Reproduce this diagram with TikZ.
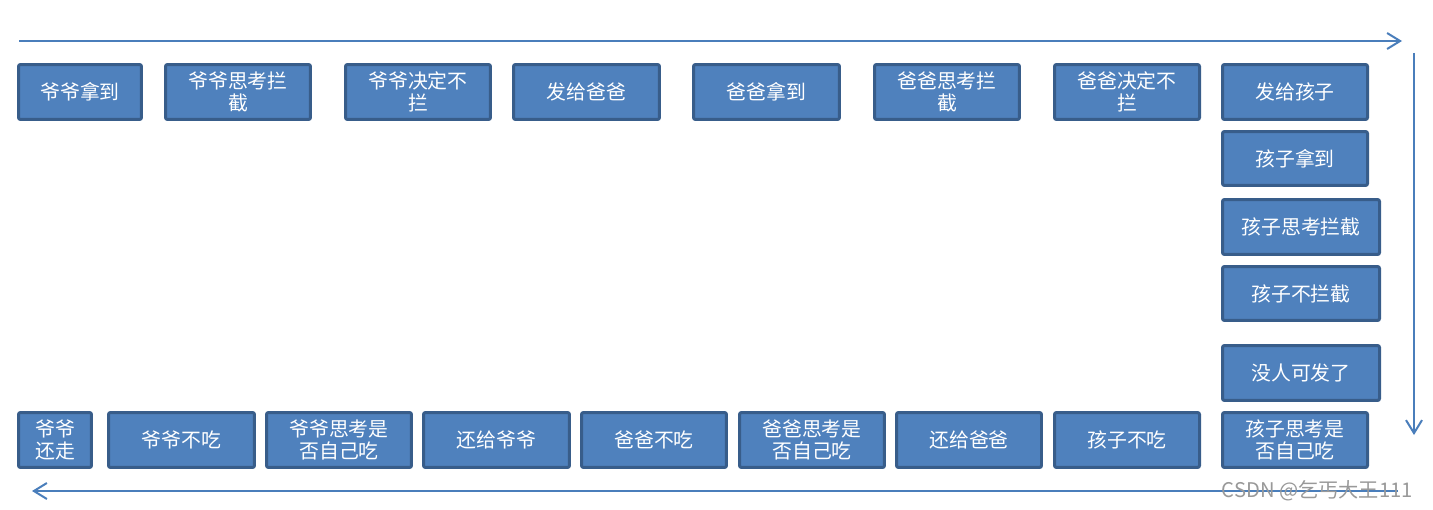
\documentclass[tikz,border=0pt]{standalone}
\usepackage{fontspec}
\newfontfamily\cjk{Noto Sans CJK SC}
\usetikzlibrary{arrows.meta}
\definecolor{boxfill}{HTML}{4F81BD}
\definecolor{boxline}{HTML}{385D8A}
\definecolor{flowline}{HTML}{4A7EBB}
\begin{document}
\begin{tikzpicture}[x=0.02cm,y=-0.02cm,
    box/.style={draw=boxline, fill=boxfill, line width=0.06cm, rounded corners=0.04cm,
        text=white, font=\cjk\fontsize{11.3}{12.6}\selectfont, align=center,
        inner sep=0pt, minimum height=1.10cm, minimum width=2.90cm},
    flow/.style={draw=flowline, line width=0.04cm, -{Straight Barb[length=0.26cm,width=0.32cm,line width=0.04cm]}}]
\useasboundingbox (0,0) rectangle (1433,510);

% top row, left to right
\node[box, minimum width=2.46cm] (yeget) at (80,92) {爷爷拿到};
\node[box] (yethink) at (238,92) {爷爷思考拦\\截};
\node[box] (yepass) at (418,92) {爷爷决定不\\拦};
\node[box, minimum width=2.92cm] (todad) at (586.5,92) {发给爸爸};
\node[box, minimum width=2.92cm] (dadget) at (766.5,92) {爸爸拿到};
\node[box] (dadthink) at (947,92) {爸爸思考拦\\截};
\node[box] (dadpass) at (1127,92) {爸爸决定不\\拦};
\node[box] (tokid) at (1295,92) {发给孩子};

% right column, top to bottom
\node[box, minimum height=1.08cm] (kidget) at (1295,158.5) {孩子拿到};
\node[box, minimum width=3.14cm] (kidthink) at (1301,227) {孩子思考拦截};
\node[box, minimum width=3.14cm, minimum height=1.08cm] (kidpass) at (1301,293.5) {孩子不拦截};
\node[box, minimum width=3.14cm] (nobody) at (1301,373) {没人可发了};
\node[box] (kideat) at (1295,440) {孩子思考是\\否自己吃};

% bottom row, right to left
\node[box] (kidno) at (1127,440) {孩子不吃};
\node[box] (todadback) at (969,440) {还给爸爸};
\node[box] (dadeat) at (812,440) {爸爸思考是\\否自己吃};
\node[box] (dadno) at (654,440) {爸爸不吃};
\node[box, minimum width=2.92cm] (toyeback) at (496.5,440) {还给爷爷};
\node[box] (yeeat) at (339,440) {爷爷思考是\\否自己吃};
\node[box, minimum width=2.92cm] (yeno) at (181.5,440) {爷爷不吃};
\node[box, minimum width=1.46cm] (yeleave) at (55,440) {爷爷\\还走};

% flow arrows
\coordinate (topstart) at (19,41);
\coordinate (topend) at (1402,41);
\coordinate (rightstart) at (1414,53);
\coordinate (rightend) at (1414,435);
\coordinate (botstart) at (1398,491);
\coordinate (botend) at (32,491);
\draw[flow] (topstart) -- (topend);
\draw[flow] (rightstart) -- (rightend);
\draw[flow] (botstart) -- (botend);

\node[text=gray!80, font=\cjk\fontsize{11.5}{13}\selectfont, anchor=east] (mark) at (1419,491) {CSDN @乞丐大王111};
\end{tikzpicture}
\end{document}
